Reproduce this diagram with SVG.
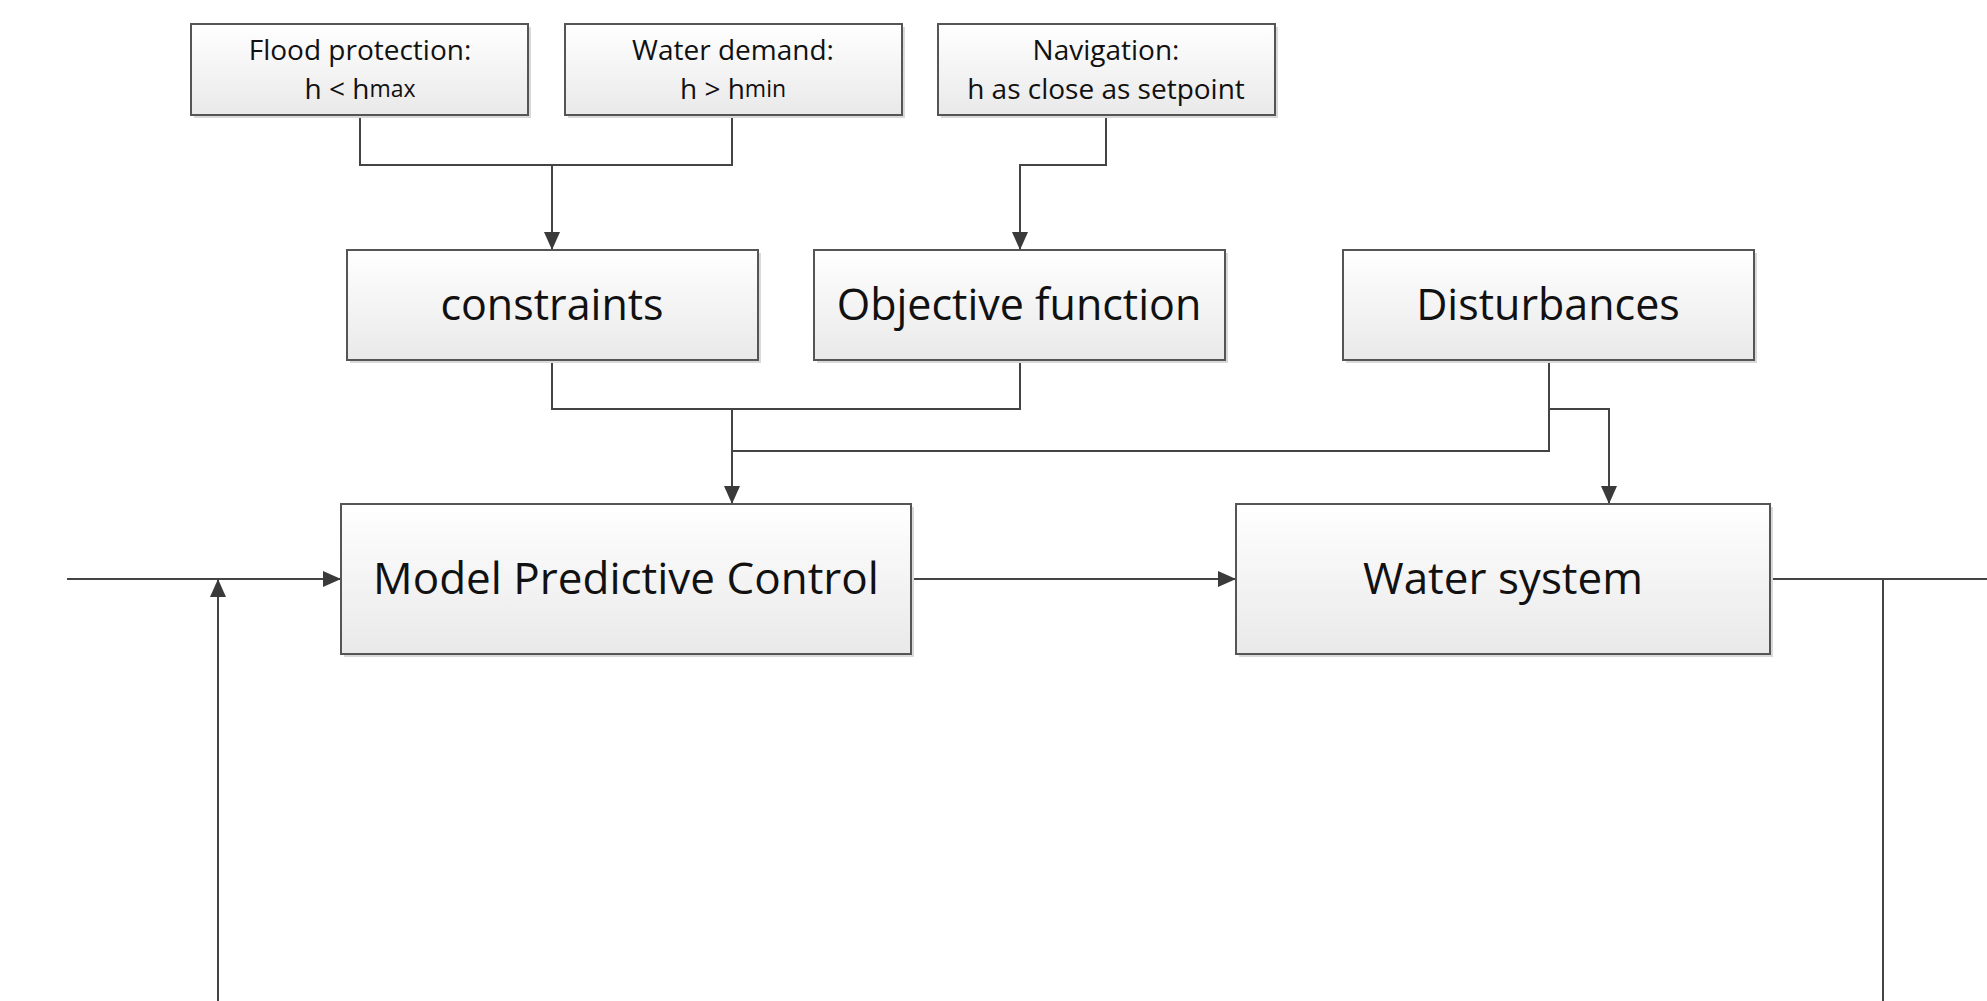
<svg xmlns="http://www.w3.org/2000/svg" width="1987" height="1001" viewBox="0 0 1987 1001">
<style>
.box{fill:url(#g);stroke:#555;stroke-width:2}
.sh{fill:#d9d9d9}
.t{font-family:"Open Sans","Noto Sans",sans-serif;fill:#111;text-anchor:middle;dominant-baseline:central}
.big{font-size:44px}
.mid{font-size:43px}
.sm{font-size:28px}
.c{fill:none;stroke:#444;stroke-width:2}
</style>
<defs>
<linearGradient id="g" x1="0" y1="0" x2="0" y2="1">
<stop offset="0" stop-color="#ffffff"/>
<stop offset="1" stop-color="#e9e9e9"/>
</linearGradient>
<marker id="a" markerWidth="18" markerHeight="16" refX="18" refY="8" orient="auto" markerUnits="userSpaceOnUse">
<path d="M0,0 L18,8 L0,16 Z" fill="#3a3a3a"/>
</marker>
</defs>
<rect width="1987" height="1001" fill="#fff"/>
<g id="connectors">
<path class="c" d="M360,115 V165 H732 V115"/>
<path class="c" d="M552,165 V250" marker-end="url(#a)"/>
<path class="c" d="M1106,115 V165 H1020 V250" marker-end="url(#a)"/>
<path class="c" d="M552,360 V409 H1020 V360"/>
<path class="c" d="M732,409 V504" marker-end="url(#a)"/>
<path class="c" d="M1549,360 V451 H732"/>
<path class="c" d="M1549,409 H1609 V504" marker-end="url(#a)"/>
<path class="c" d="M67,579 H341" marker-end="url(#a)"/>
<path class="c" d="M218,1001 V579" marker-end="url(#a)"/>
<path class="c" d="M911,579 H1236" marker-end="url(#a)"/>
<path class="c" d="M1770,579 H1987"/>
<path class="c" d="M1883,579 V1001"/>
</g>
<g id="flood">
<rect class="sh" x="194" y="27" width="337" height="91"/>
<rect class="box" x="191" y="24" width="337" height="91"/>
<text class="t sm" x="360" y="49">Flood protection:</text>
<text class="t sm" x="360" y="88">h &lt; h<tspan font-size="23">max</tspan></text>
</g>
<g id="demand">
<rect class="sh" x="568" y="27" width="337" height="91"/>
<rect class="box" x="565" y="24" width="337" height="91"/>
<text class="t sm" x="733" y="49">Water demand:</text>
<text class="t sm" x="733" y="88">h &gt; h<tspan font-size="23">min</tspan></text>
</g>
<g id="navigation">
<rect class="sh" x="941" y="27" width="337" height="91"/>
<rect class="box" x="938" y="24" width="337" height="91"/>
<text class="t sm" x="1106" y="49">Navigation:</text>
<text class="t sm" x="1106" y="88">h as close as setpoint</text>
</g>
<g id="constraints">
<rect class="sh" x="350" y="253" width="411" height="110"/>
<rect class="box" x="347" y="250" width="411" height="110"/>
<text class="t mid" x="552" y="303">constraints</text>
</g>
<g id="objective">
<rect class="sh" x="817" y="253" width="411" height="110"/>
<rect class="box" x="814" y="250" width="411" height="110"/>
<text class="t mid" x="1019" y="303">Objective function</text>
</g>
<g id="disturbances">
<rect class="sh" x="1346" y="253" width="411" height="110"/>
<rect class="box" x="1343" y="250" width="411" height="110"/>
<text class="t mid" x="1548" y="303">Disturbances</text>
</g>
<g id="mpc">
<rect class="sh" x="344" y="507" width="570" height="150"/>
<rect class="box" x="341" y="504" width="570" height="150"/>
<text class="t big" x="626" y="577">Model Predictive Control</text>
</g>
<g id="water">
<rect class="sh" x="1239" y="507" width="534" height="150"/>
<rect class="box" x="1236" y="504" width="534" height="150"/>
<text class="t big" x="1503" y="577">Water system</text>
</g>
</svg>
